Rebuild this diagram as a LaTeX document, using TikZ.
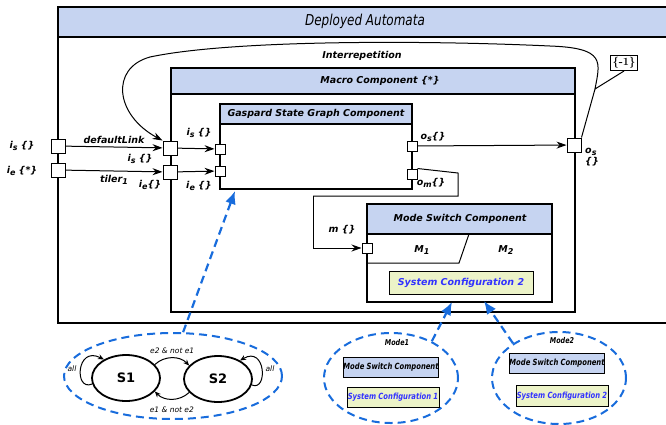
\documentclass[tikz,border=0pt]{standalone}
\usepackage{fontspec}
\newfontfamily\djv{DejaVu Sans}
\newfontfamily\condfont[FakeStretch=0.8]{DejaVu Sans}
\usetikzlibrary{arrows.meta,shapes.geometric}

\definecolor{hdrblue}{RGB}{198,212,241}
\definecolor{cfgyellow}{RGB}{236,243,200}
\definecolor{dashblue}{RGB}{24,108,220}
\definecolor{cfgtext}{RGB}{50,50,255}

\newcommand{\portsub}[1]{\raisebox{-0.35ex}{\fontsize{8}{9}\selectfont #1}}

\tikzset{
  port/.style={draw,fill=white,minimum size=14pt,inner sep=0pt},
  sport/.style={draw,fill=white,minimum size=10pt,inner sep=0pt},
  lbl/.style={font=\djv\fontsize{9.5}{11}\selectfont\bfseries\itshape,inner sep=1pt},
  tlbl/.style={font=\djv\fontsize{7.5}{9}\selectfont\itshape,inner sep=1pt},
  flow/.style={-{Stealth[length=10pt,width=7pt]}},
  tflow/.style={-{Stealth[length=6pt,width=5pt]}},
  modelink/.style={dashblue,line width=2.2pt,dash pattern=on 8pt off 5pt,-{Latex[length=13pt,width=11pt]}},
  modering/.style={draw=dashblue,line width=2pt,dash pattern=on 8pt off 5pt,ellipse,inner sep=0pt},
  state/.style={draw,ellipse,line width=1.8pt,minimum width=68pt,minimum height=46pt,font=\djv\fontsize{13}{15}\selectfont\bfseries},
  cfgbox/.style={draw,fill=cfgyellow,text=cfgtext,inner sep=0pt},
  minibox/.style={draw,fill=hdrblue,inner sep=0pt,minimum width=88pt,minimum height=20pt,font=\condfont\fontsize{8.5}{9}\selectfont\bfseries\itshape},
}

\begin{document}
\begin{tikzpicture}[x=1pt,y=1pt,line width=1pt]
\useasboundingbox (0,0) rectangle (666,-424);

% Deployed Automata
\draw[line width=1.3pt] (58,-7) rectangle (672,-323);
\draw[line width=1.3pt,fill=hdrblue] (58,-7) rectangle (672,-37);
\node[font=\condfont\fontsize{15}{17}\selectfont\itshape] at (365,-21) {Deployed Automata};

% Macro Component
\draw[line width=1.3pt] (171,-68) rectangle (575,-312);
\draw[line width=1.3pt,fill=hdrblue] (171,-68) rectangle (575,-94);
\node[lbl] at (380,-81) {Macro Component \{*\}};

% Gaspard State Graph Component
\draw[line width=1.9pt] (220,-104) rectangle (412,-189);
\draw[line width=1.9pt,fill=hdrblue] (220,-104) rectangle (412,-124);
\node[lbl] at (316,-114) {Gaspard State Graph Component};

% Mode Switch Component
\draw[line width=1.9pt] (367,-204) rectangle (552,-302);
\draw[line width=1.9pt,fill=hdrblue] (367,-204) rectangle (552,-234);
\node[lbl] at (460,-219) {Mode Switch Component};
\draw (367,-263) -- (459,-263) -- (469,-234);
\node[lbl] at (422,-250) {M\portsub{1}};
\node[lbl] at (506,-250) {M\portsub{2}};
\node[cfgbox,minimum width=144pt,minimum height=23pt,font=\djv\fontsize{9.5}{11}\selectfont\bfseries\itshape] (cfgtwo) at (461,-283) {System Configuration 2};

% ports
\node[port] (dis) at (58,-146) {};
\node[port] (die) at (58,-170) {};
\node[port] (mis) at (170,-148) {};
\node[port] (mie) at (170,-172) {};
\node[sport] (gis) at (220,-149) {};
\node[sport] (gie) at (220,-171) {};
\node[sport] (gos) at (412,-146) {};
\node[sport] (gom) at (412,-174) {};
\node[port] (mos) at (574,-145) {};
\node[sport] (msm) at (367,-248) {};

% port labels
\node[lbl] at (22,-146) {i\portsub{s} \{\}};
\node[lbl] at (22,-171) {i\portsub{e} \{*\}};
\node[lbl] at (140,-159) {i\portsub{s} \{\}};
\node[lbl] at (150,-185) {i\portsub{e}\{\}};
\node[lbl] at (199,-133) {i\portsub{s} \{\}};
\node[lbl] at (199,-186) {i\portsub{e} \{\}};
\node[lbl] at (433,-137) {o\portsub{s}\{\}};
\node[lbl] at (431,-183) {o\portsub{m}\{\}};
\node[lbl,align=left] at (592,-157) {o\portsub{s}\\\{\}};
\node[lbl] at (342,-230) {m \{\}};

% links
\draw[flow] (dis) -- node[lbl,above=2pt]{defaultLink} (mis);
\draw[flow] (die) -- node[lbl,below=3pt]{tiler\portsub{1}} (mie);
\draw[flow] (mis) -- (gis);
\draw[flow] (mie) -- (gie);
\draw[flow] (gos) -- (mos);
\draw (gom.north east) -- (458,-173) -- (458,-196) -- (313,-196);
\draw[flow] (313,-196) |- (msm);

% interrepetition
\draw[flow] (mos.north east) -- (595,-89) coordinate (rep)
  .. controls (600,-62) and (606,-48) .. (550,-46)
  .. controls (420,-40) and (230,-40) .. (150,-57)
  .. controls (110,-68) and (115,-115) .. (mis.north west);
\node[lbl] at (362,-56) {Interrepetition};
\node[draw,inner sep=2pt,font=\fontsize{11}{12}\selectfont\bfseries] (dep) at (624,-63) {\{-1\}};
\draw (dep.south) -- (rep);

% state graph
\node[modering,minimum width=218pt,minimum height=86pt] (chart) at (173,-376) {};
\node[state] (s1) at (126,-378) {S1};
\node[state] (s2) at (218,-379) {S2};
\draw[tflow] (s1.25) to[bend left=45] node[tlbl,above=3pt]{e2 \& not e1} (s2.155);
\draw[tflow] (s2.205) to[bend left=45] node[tlbl,below=6pt]{e1 \& not e2} (s1.335);
\draw[tflow] (s1.190) .. controls (74,-392) and (76,-345) .. (s1.140);
\draw[tflow] (s2.350) .. controls (268,-392) and (266,-345) .. (s2.40);
\node[tlbl] at (72,-369) {all};
\node[tlbl] at (270,-369) {all};

% modes
\node[modering,minimum width=134pt,minimum height=90pt] (mode1) at (391,-378) {};
\node[font=\condfont\fontsize{8}{9}\selectfont\bfseries\itshape] at (397,-343) {Mode1};
\node[minibox] (msone) at (391,-367) {Mode Switch Component};
\node[cfgbox,minimum width=92pt,minimum height=20pt,font=\condfont\fontsize{8.5}{9}\selectfont\bfseries\itshape] (cfgone) at (393,-397) {System Configuration 1};

\node[modering,minimum width=134pt,minimum height=92pt] (mode2) at (559,-378) {};
\node[font=\condfont\fontsize{8}{9}\selectfont\bfseries\itshape] at (562,-341) {Mode2};
\node[minibox] (mstwo) at (557,-363) {Mode Switch Component};
\node[cfgbox,minimum width=92pt,minimum height=21pt,font=\condfont\fontsize{8.5}{9}\selectfont\bfseries\itshape] (cfgtwob) at (562,-396) {System Configuration 2};

% mode links
\coordinate (gsgbot) at (235,-191);
\coordinate (msbotl) at (452,-302);
\coordinate (msbotr) at (484,-301);
\draw[modelink] (chart.77) -- (gsgbot);
\draw[modelink] (mode1.42) -- (msbotl);
\draw[modelink] (mode2.143) -- (msbotr);
\end{tikzpicture}
\end{document}
